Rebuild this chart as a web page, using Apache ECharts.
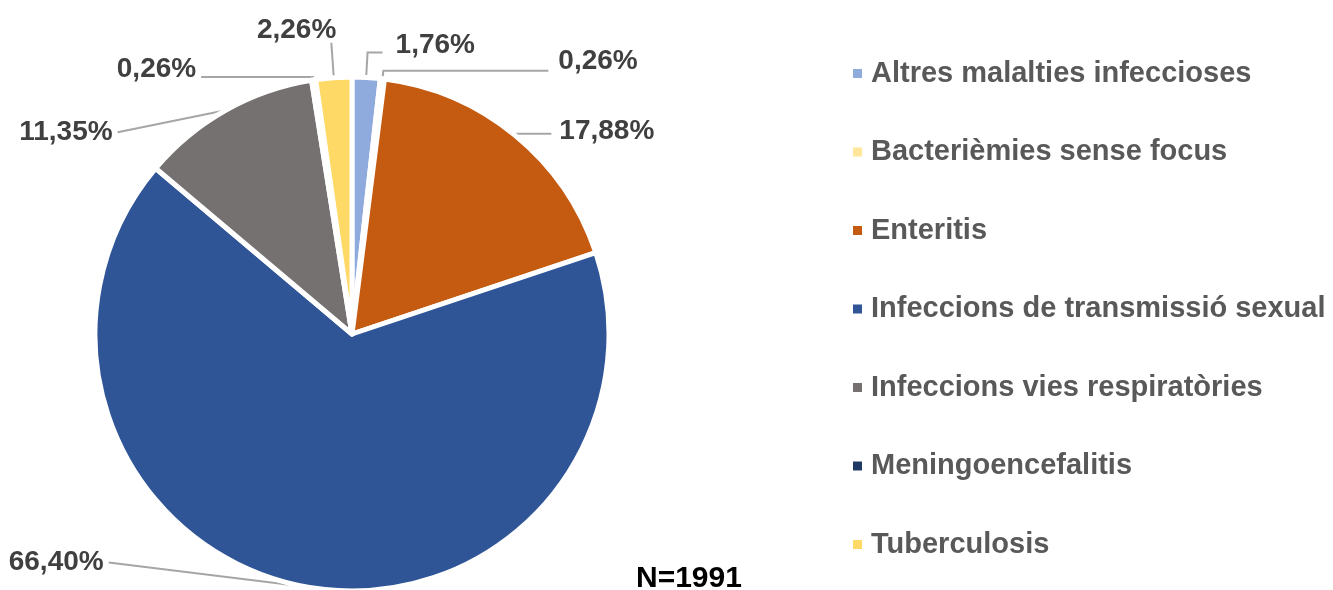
<!DOCTYPE html>
<html>
<head>
<meta charset="utf-8">
<script src="https://cdn.jsdelivr.net/npm/echarts@6/dist/echarts.min.js"></script>
<style>
	html,body{margin:0;padding:0;background:#fff;}
	#chart{width:1333px;height:590px;}
</style>
</head>
<body>
<div id="chart"></div>
<script>
	// categories (legend order = slice order, clockwise from the top)
	var categories=[
		"Altres malalties infeccioses",
		"Bacterièmies sense focus",
		"Enteritis",
		"Infeccions de transmissió sexual",
		"Infeccions vies respiratòries",
		"Meningoencefalitis",
		"Tuberculosis"
	];
	// percentage of cases
	var percentages=[1.76,0.26,17.88,66.40,11.35,0.26,2.26];
	var colors=["#8FAADC","#FFE699","#C55A11","#2F5597","#767171","#203864","#FFD966"];
	var totalN=1991;

	// leader line tuning for each slice (label placement only)
	var lineLen1=[25,8,2,0,0,3,35];
	var lineLen2=[15,165,35,195,108,112,0];
	var labelDx=[8,5,3,0,0,0,10];
	var labelDy=[-7,-10,-3,-24,22,-8,-12];
	var lineFollow=[false,false,false,true,true,false,false];

	var pieData=[];
	for(var i=0,len=categories.length;i<len;i++){
		pieData.push({
			name:categories[i],
			value:percentages[i],
			itemStyle:{color:colors[i]},
			labelLine:{length:lineLen1[i],length2:lineLen2[i]}
		});
	}

	var chart=echarts.init(document.getElementById("chart"));
	var option={
		backgroundColor:"#fff",
		animation:false,
		title:{
			text:"N="+totalN,
			left:631,
			top:559,
			textStyle:{
				fontFamily:"Liberation Sans",
				fontSize:30,
				fontWeight:"bold",
				color:"#000"
			}
		},
		legend:{
			orient:"vertical",
			left:846,
			top:54,
			icon:"rect",
			itemWidth:11,
			itemHeight:11,
			itemGap:49.5,
			textStyle:{
				fontFamily:"Liberation Sans",
				fontSize:29,
				fontWeight:"bold",
				color:"#595959",
				padding:[0,0,0,3]
			},
			data:categories
		},
		series:[
			{
				type:"pie",
				center:[352,334],
				radius:257,
				startAngle:90,
				clockwise:true,
				avoidLabelOverlap:false,
				itemStyle:{
					borderColor:"#fff",
					borderWidth:5
				},
				label:{
					show:true,
					fontFamily:"Liberation Sans",
					fontSize:28,
					fontWeight:"bold",
					color:"#404040",
					formatter:function(p){
						return p.value.toFixed(2).replace(".",",")+"%";
					}
				},
				labelLine:{
					show:true,
					lineStyle:{color:"#A6A6A6",width:2}
				},
				//nudge labels like the original, keep the line start on the slice
				labelLayout:function(params){
					var idx=params.dataIndex;
					var pts=params.labelLinePoints;
					var res={dx:labelDx[idx],dy:labelDy[idx]};
					if(pts){
						var newPts=[];
						for(var k=0;k<pts.length;k++){
							newPts.push([pts[k][0],pts[k][1]]);
						}
						if(lineFollow[idx]){
							newPts[newPts.length-1][1]+=labelDy[idx];
						}
						res.labelLinePoints=newPts;
					}
					return res;
				},
				emphasis:{disabled:true},
				data:pieData
			}
		]
	};
	chart.setOption(option);
</script>
</body>
</html>
